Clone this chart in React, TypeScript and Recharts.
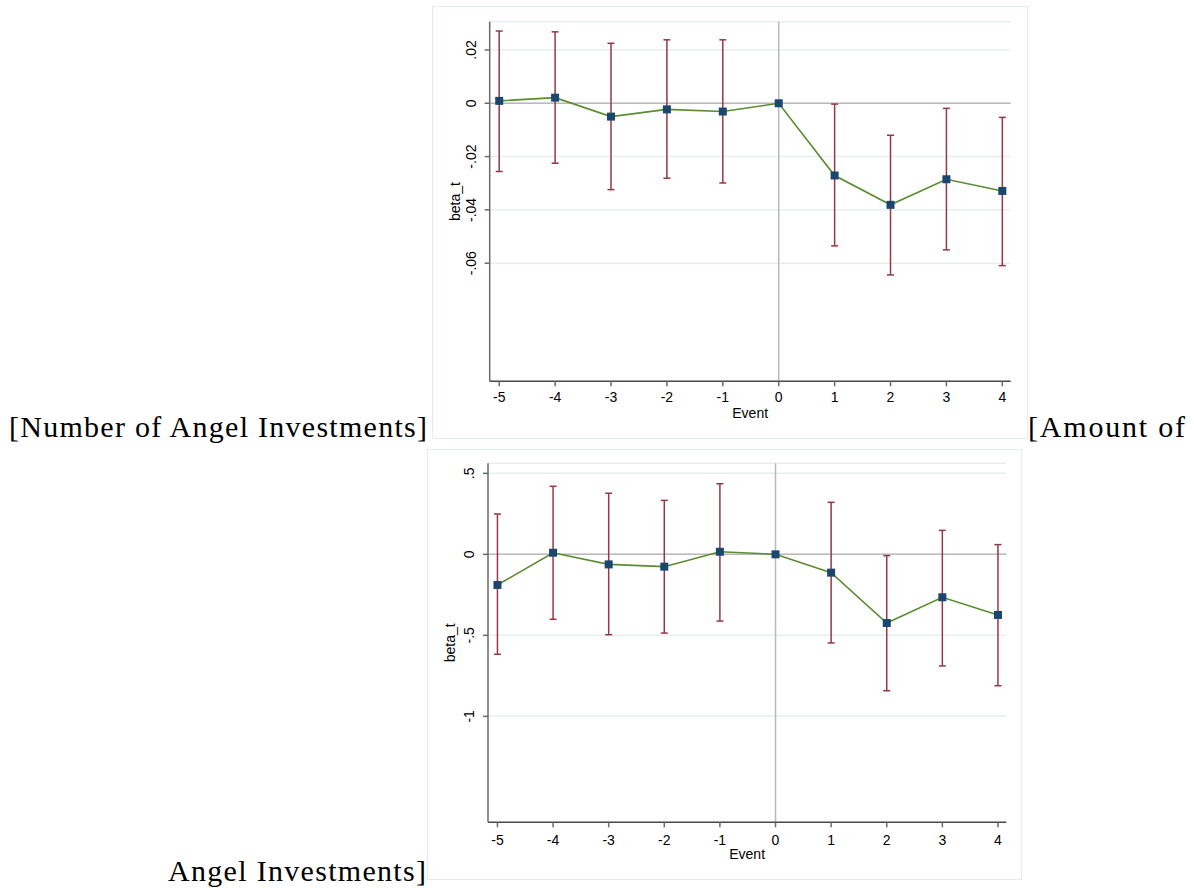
import { ComposedChart, Line, ErrorBar, XAxis, YAxis, CartesianGrid, ReferenceLine } from "recharts"

// event time (x axis)
const events = [-5, -4, -3, -2, -1, 0, 1, 2, 3, 4]

// panel a: number of angel investments
const numBeta = [0.0009, 0.0021, -0.005, -0.0023, -0.0031, 0, -0.0271, -0.0381, -0.0285, -0.0329]
const numLower = [-0.0256, -0.0225, -0.0324, -0.0281, -0.0299, null, -0.0535, -0.0644, -0.055, -0.0609]
const numUpper = [0.0271, 0.0268, 0.0225, 0.0238, 0.0238, null, -0.0003, -0.012, -0.0019, -0.0053]
const numTicks = [0.02, 0, -0.02, -0.04, -0.06]

// panel b: amount of angel investments
const amtBeta = [-0.189, 0.01, -0.062, -0.076, 0.016, 0, -0.113, -0.424, -0.265, -0.374]
const amtLower = [-0.617, -0.401, -0.496, -0.486, -0.412, null, -0.547, -0.842, -0.689, -0.811]
const amtUpper = [0.249, 0.42, 0.377, 0.333, 0.436, null, 0.321, -0.008, 0.148, 0.06]
const amtTicks = [0.5, 0, -0.5, -1]

const SANS = "'Liberation Sans', Arial, sans-serif"
const SERIF = "'Liberation Serif', 'Times New Roman', serif"
const X_AXIS_H = 40

const NAVY = "#1a476f"
const GREEN = "#5b8c2e"
const CRANBERRY = "#953843"

// stata-ish number labels: .02, -.5, 0
const stataFmt = (v: number) => {
  if (v === 0) return "0"
  const s = String(Math.round(v * 1000) / 1000)
  return s.replace(/^(-?)0\./, "$1.")
}

type PlotProps = {
  left: number
  top: number
  width: number
  height: number
  yAxisWidth: number
  margin: { top: number; right: number; bottom: number; left: number }
  beta: number[]
  lower: (number | null)[]
  upper: (number | null)[]
  yDomain: [number, number]
  yTicks: number[]
  tickDy: number
  eventDy: number
  titleGap: number
}

function EventPlot(p: PlotProps) {
  const data = events.map((e, i) => {
    const lo = p.lower[i]
    const hi = p.upper[i]
    return {
      event: e,
      beta: p.beta[i],
      err: lo == null || hi == null ? null : [p.beta[i] - lo, hi - p.beta[i]],
    }
  })

  const plotTop = p.margin.top
  const plotBottom = p.height - p.margin.bottom - X_AXIS_H
  const axisX = p.margin.left + p.yAxisWidth
  const plotRight = p.width - p.margin.right

  const YTick = ({ x, y, payload }: any) => {
    const tx = x - 12
    return (
      <text
        x={tx}
        y={y}
        transform={`rotate(-90 ${tx} ${y})`}
        textAnchor="middle"
        dominantBaseline="central"
        fontFamily={SANS}
        fontSize={14}
        fill="#000"
      >
        {stataFmt(payload.value)}
      </text>
    )
  }

  const XTick = ({ x, y, payload }: any) => (
    <text x={x} y={y + p.tickDy} textAnchor="middle" dominantBaseline="central" fontFamily={SANS} fontSize={14} fill="#000">
      {payload.value}
    </text>
  )

  const yTitle = () => {
    const cx = axisX - p.titleGap
    const cy = (plotTop + plotBottom) / 2
    return (
      <text x={cx} y={cy} transform={`rotate(-90 ${cx} ${cy})`} textAnchor="middle" dominantBaseline="central" fontFamily={SANS} fontSize={14} fill="#000">
        beta_t
      </text>
    )
  }

  const xTitle = () => (
    <text
      x={(axisX + plotRight) / 2}
      y={plotBottom + p.eventDy}
      textAnchor="middle"
      dominantBaseline="central"
      fontFamily={SANS}
      fontSize={14}
      fill="#000"
    >
      Event
    </text>
  )

  return (
    <div style={{ position: "absolute", left: p.left, top: p.top, width: p.width, height: p.height }}>
      <div
        style={{
          position: "absolute",
          inset: 0,
          border: "1.5px solid #e3ecf0",
          boxSizing: "border-box",
        }}
      />
      <ComposedChart width={p.width} height={p.height} data={data} margin={p.margin}>
        <CartesianGrid horizontal vertical={false} stroke="#e6eff2" strokeWidth={1.5} />
        <XAxis
          dataKey="event"
          type="number"
          domain={[-5.17, 4.15]}
          ticks={events}
          interval={0}
          height={X_AXIS_H}
          tickSize={5}
          tickMargin={2}
          axisLine={{ stroke: "#4a4a4a", strokeWidth: 1.5 }}
          tickLine={{ stroke: "#6a6a6a", strokeWidth: 1.5 }}
          tick={<XTick />}
          label={xTitle}
          allowDataOverflow
        />
        <YAxis
          type="number"
          domain={p.yDomain}
          ticks={p.yTicks}
          interval={0}
          width={p.yAxisWidth}
          tickSize={5}
          tickMargin={2}
          axisLine={{ stroke: "#6a6a6a", strokeWidth: 1.5 }}
          tickLine={{ stroke: "#6a6a6a", strokeWidth: 1.5 }}
          tick={<YTick />}
          label={yTitle}
          allowDataOverflow
        />
        <ReferenceLine y={0} stroke="#b9b9b9" strokeWidth={1.5} />
        <ReferenceLine x={0} stroke="#b9b9b9" strokeWidth={1.5} />
        <Line
          dataKey="beta"
          stroke={GREEN}
          strokeWidth={1.6}
          isAnimationActive={false}
          activeDot={false}
          dot={(d: any) => <rect key={d.index} x={d.cx - 4} y={d.cy - 4} width={8} height={8} fill={NAVY} />}
        >
          <ErrorBar dataKey="err" direction="y" width={3.5} stroke={CRANBERRY} strokeWidth={1.5} isAnimationActive={false} />
        </Line>
      </ComposedChart>
    </div>
  )
}

export default function App() {
  return (
    <div style={{ position: "absolute", left: 0, top: 0, width: 1194, height: 888, background: "#fff", overflow: "hidden" }}>
      <svg width={1194} height={888} style={{ position: "absolute", left: 0, top: 0 }}>
        <text x={9} y={437} fontFamily={SERIF} fontSize={30} fill="#000" textLength={418} lengthAdjust="spacing">
          [Number of Angel Investments]
        </text>
        <text x={1028} y={437} fontFamily={SERIF} fontSize={30} fill="#000" textLength={157} lengthAdjust="spacing">
          [Amount of
        </text>
        <text x={168} y={881} fontFamily={SERIF} fontSize={30} fill="#000" textLength={258} lengthAdjust="spacing">
          Angel Investments]
        </text>
      </svg>

      <EventPlot
        left={432}
        top={6}
        width={596}
        height={433}
        yAxisWidth={57.7}
        margin={{ top: 15.7, right: 17.3, bottom: 17.7, left: 0 }}
        beta={numBeta}
        lower={numLower}
        upper={numUpper}
        yDomain={[-0.1043, 0.0306]}
        yTicks={numTicks}
        tickDy={9}
        eventDy={31.5}
        titleGap={34.7}
      />

      <EventPlot
        left={427}
        top={449}
        width={595}
        height={431}
        yAxisWidth={61}
        margin={{ top: 14.3, right: 15.7, bottom: 17.7, left: 0 }}
        beta={amtBeta}
        lower={amtLower}
        upper={amtUpper}
        yDomain={[-1.654, 0.562]}
        yTicks={amtTicks}
        tickDy={10.7}
        eventDy={32}
        titleGap={38}
      />
    </div>
  )
}
